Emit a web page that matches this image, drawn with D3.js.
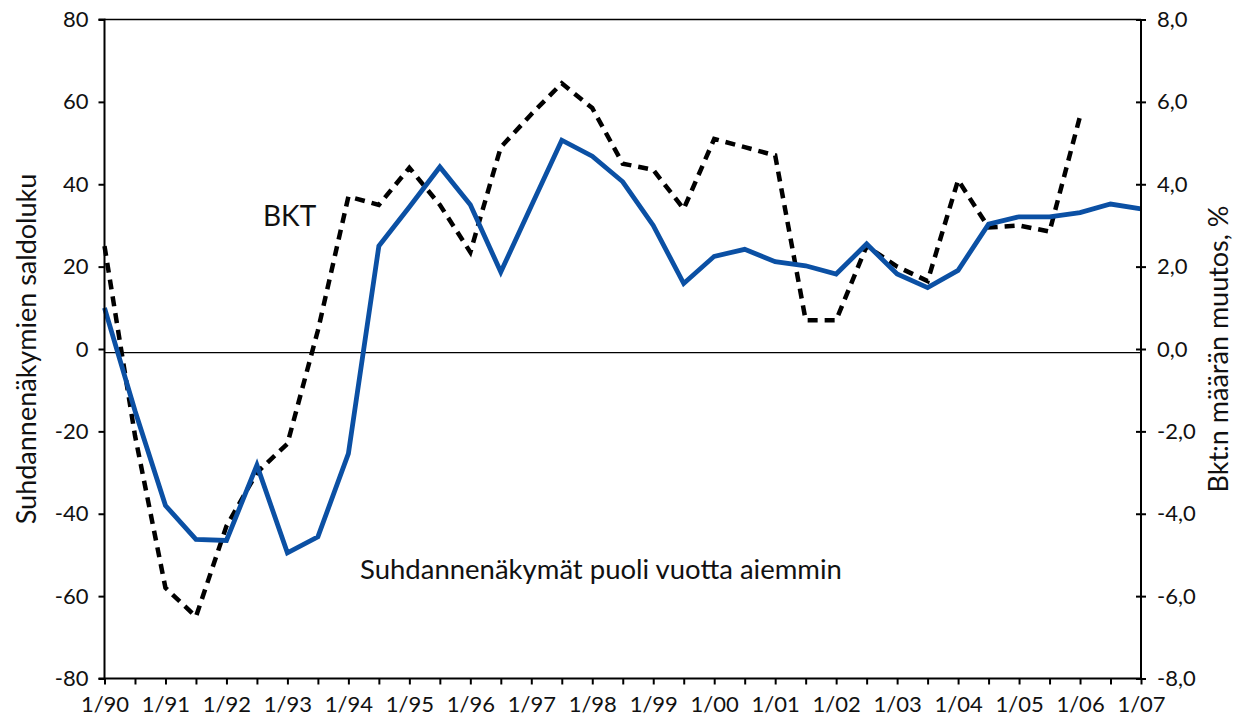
<!DOCTYPE html>
<html><head><meta charset="utf-8">
<script src="https://cdn.jsdelivr.net/npm/d3@7"></script>
<style>
html,body{margin:0;padding:0;background:#fff;}
text{font-family:Lato,"Open Sans",sans-serif;}
</style></head>
<body><svg id="c" width="1236" height="724"></svg>
<script>
// Half-year periods from 1/90 to 1/07
const yearLabels = ["1/90","1/91","1/92","1/93","1/94","1/95","1/96","1/97","1/98","1/99","1/00","1/01","1/02","1/03","1/04","1/05","1/06","1/07"];
// Business outlook balance (left axis), half-year steps starting 1/90
const outlook = [10,-15,-38,-46.2,-46.5,-28.2,-49.5,-45.6,-25.4,25,34.5,44.2,35,18.7,34.7,50.7,46.8,40.6,30,15.9,22.5,24.2,21.2,20.2,18.2,25.5,18.2,14.9,19.1,30.3,32.1,32.1,33.1,35.2,34];
// GDP volume change, % (right axis), half-year steps starting 1/90
const gdp = [2.5,-2.1,-5.8,-6.5,-4.3,-3.0,-2.3,0.45,3.7,3.5,4.4,3.5,2.35,4.9,5.7,6.45,5.85,4.5,4.35,3.4,5.1,4.9,4.7,0.7,0.7,2.5,2.0,1.65,4.1,2.95,3.0,2.85,5.65];
const leftTicks = [80,60,40,20,0,-20,-40,-60,-80];
const rightTicks = [8,6,4,2,0,-2,-4,-6,-8];

const svg = d3.select("#c");
const L = 104.5, R = 1141, T = 19.5, B = 678.5;
const nHalf = (yearLabels.length - 1) * 2;
const x = d3.scaleLinear().domain([0, nHalf]).range([L, R]);
const yL = d3.scaleLinear().domain([-80, 80]).range([B, T]);
const yR = d3.scaleLinear().domain([-8, 8]).range([B, T]);

// frame top
svg.append("line").attr("x1",L).attr("x2",R).attr("y1",T).attr("y2",T).attr("stroke","#000").attr("stroke-width",1.5);
// zero reference line
svg.append("line").attr("x1",L).attr("x2",R).attr("y1",yL(-0.9)).attr("y2",yL(-0.9)).attr("stroke","#000").attr("stroke-width",1.2);

// lines
const lineL = d3.line().x((d,i)=>x(i)).y(d=>yL(d));
const lineR = d3.line().x((d,i)=>x(i)).y(d=>yR(d));
svg.append("path").datum(gdp).attr("d",lineR).attr("fill","none").attr("stroke","#000")
  .attr("stroke-width",4.5).attr("stroke-dasharray","10,7").attr("stroke-linejoin","miter");
svg.append("path").datum(outlook).attr("d",lineL).attr("fill","none").attr("stroke","#0b50a4")
  .attr("stroke-width",4.8).attr("stroke-linejoin","miter");

const hy = s => s.replace("\u2212","-");
// left axis
const gL = svg.append("g").attr("transform",`translate(${L},0)`)
  .call(d3.axisLeft(yL).tickValues(leftTicks).tickSize(6).tickPadding(10).tickFormat(d=>hy(d3.format("d")(d))));
// right axis
const gR = svg.append("g").attr("transform",`translate(${R},0)`)
  .call(d3.axisRight(yR).tickValues(rightTicks).tickSize(5).tickPadding(11).tickFormat(d=>hy(d3.format(".1f")(d)).replace(".",",")));
gR.selectAll(".tick line").attr("x1",-5);
// bottom axis
const gB = svg.append("g").attr("transform",`translate(0,${B})`)
  .call(d3.axisBottom(x).tickValues(d3.range(0,nHalf+1)).tickSize(6).tickPadding(9)
    .tickFormat(i => i%2===0 ? yearLabels[i/2] : ""));

[gL,gR,gB].forEach(g=>{
  g.select(".domain").attr("stroke","#000").attr("stroke-width",2);
  g.selectAll(".tick line").attr("stroke","#000").attr("stroke-width",2);
  g.selectAll(".tick text").attr("fill","#111").style("font-size","22px");
});
gL.selectAll(".domain").attr("d",`M-6,${T}H0V${B}H-6`);
gR.selectAll(".domain").attr("d",`M0,${T}V${B}`);
gB.selectAll(".domain").attr("d",`M${L},0H${R}`);
gB.selectAll(".tick text").style("font-size","22px").attr("dy","0.85em");

// axis titles
svg.append("text").attr("transform",`translate(36,${(T+B)/2}) rotate(-90)`).attr("text-anchor","middle")
  .style("font-size","27px").attr("fill","#111").text("Suhdannenäkymien saldoluku");
svg.append("text").attr("transform",`translate(1228,${(T+B)/2}) rotate(-90)`).attr("text-anchor","middle")
  .style("font-size","27px").attr("fill","#111").text("Bkt:n määrän muutos, %");

// annotations
svg.append("text").attr("x",263).attr("y",226).style("font-size","28px").attr("fill","#111").text("BKT");
svg.append("text").attr("x",360).attr("y",579).style("font-size","27.5px").attr("fill","#111").text("Suhdannenäkymät puoli vuotta aiemmin");
</script></body></html>
